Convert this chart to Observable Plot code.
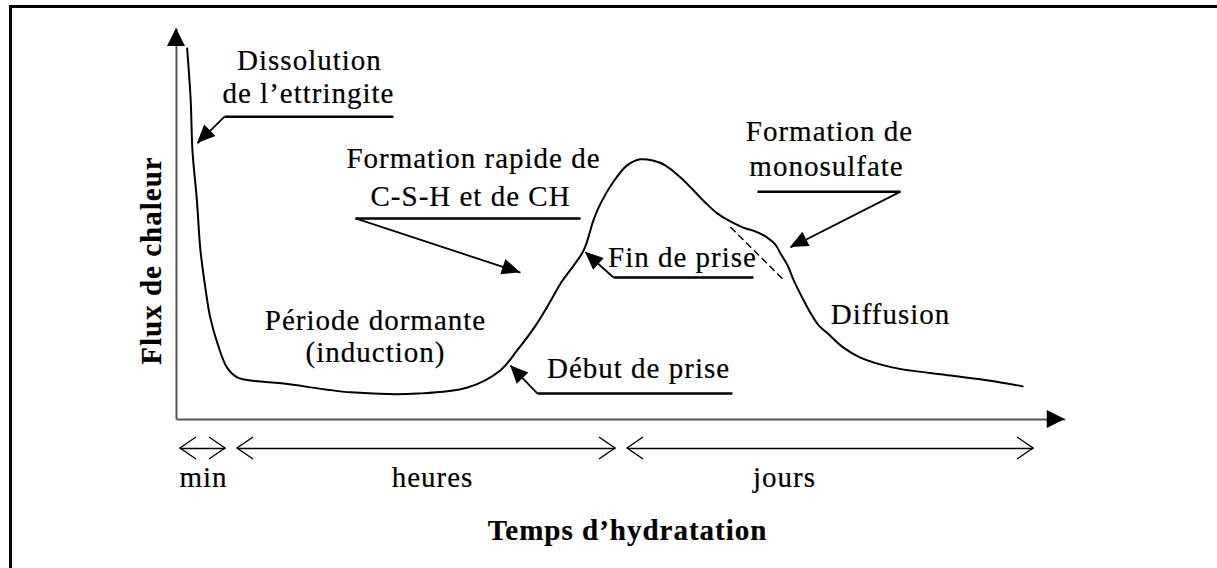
<!DOCTYPE html>
<html><head><meta charset="utf-8">
<script src="https://cdn.jsdelivr.net/npm/d3@7"></script>
<script src="https://cdn.jsdelivr.net/npm/@observablehq/plot@0.6"></script>
<style>
html,body{margin:0;padding:0;background:#fff;}
#wrap{position:relative;width:1217px;height:568px;overflow:hidden;}
#chart svg{display:block;}
#chart svg text{letter-spacing:1px;}
#frame{position:absolute;left:9px;top:5px;right:-10px;bottom:-10px;border-left:3px solid #000;border-top:3px solid #000;pointer-events:none;}
</style></head><body>
<div id="wrap"><div id="chart"></div><div id="frame"></div></div>
<script>
// ---- data (arbitrary units: time 0–100, heat flux 0–100) ----
const curveTime = [1.2,1.6,1.8,2.3,2.7,3.3,3.8,4.7,5.7,6.9,9.5,12.1,19.6,27.2,32.8,36.5,38.4,40.5,42.2,43.3,45.9,47.0,47.8,49.2,50.8,52.3,53.7,55.1,56.8,58.3,59.6,61.0,62.5,63.9,65.3,66.6,67.5,68.1,68.9,69.6,70.6,71.5,72.4,73.4,75.2,77.1,80.8,87.3,92.9,95.4];
const curveFlux = [93.0,80.0,67.4,54.9,42.4,32.3,25.6,18.5,13.0,10.5,9.5,9.0,6.8,6.5,8.0,12.3,17.3,23.6,29.8,34.1,42.4,49.9,54.1,59.4,63.7,65.2,64.9,63.7,60.7,57.4,54.4,51.6,49.6,48.1,47.1,45.6,43.9,41.6,38.6,34.8,30.3,26.6,23.6,21.6,18.0,15.5,13.0,11.0,9.3,8.3];

const shoulderTime = [62.5, 68.3];
const shoulderFlux = [48.1, 35.3];

const noteLabels = ["Dissolution","de l’ettringite","Formation rapide de","C-S-H et de CH","Période dormante","(induction)","Début de prise","Fin de prise","Formation de","monosulfate","Diffusion"];
const noteTime = [14.99,14.88,33.48,33.15,22.44,22.44,52.09,57.05,73.62,73.28,80.50];
const noteFlux = [87.47,79.20,62.91,53.63,22.31,14.29,10.28,38.10,69.92,61.15,24.06];

const underlineStart = [5.41,20.18,40.70,49.27,65.50];
const underlineEnd = [24.46,45.55,62.68,65.05,81.62];
const underlineFlux = [75.9,50.4,6.5,35.6,57.1];

const pointerTailTime = [5.41,20.18,40.70,49.27,81.62];
const pointerTailFlux = [75.9,50.4,6.5,35.6,57.1];
const pointerTipTime = [2.37,38.78,37.66,46.11,69.22];
const pointerTipFlux = [69.2,36.8,13.5,41.9,43.1];

const phaseLabels = ["min","heures","jours"];
const phaseStart = [0.45,6.88,50.85];
const phaseEnd = [5.52,49.49,96.62];
const phaseLabelTime = [3.04,28.86,68.55];

const xAxisEnd = 100.2;
const yAxisEnd = 98.0;
const xTitle = "Temps d’hydratation";
const yTitle = "Flux de chaleur";

// ---- derived tables ----
const curve = curveTime.map((t,i)=>({t, f: curveFlux[i]}));
const shoulder = shoulderTime.map((t,i)=>({t, f: shoulderFlux[i]}));
const notes = noteLabels.map((s,i)=>({s, t: noteTime[i], f: noteFlux[i]}));
const underlines = underlineStart.map((a,i)=>({x1:a, x2:underlineEnd[i], y:underlineFlux[i]}));
const pointers = pointerTailTime.map((a,i)=>({x1:a, y1:pointerTailFlux[i], x2:pointerTipTime[i], y2:pointerTipFlux[i]}));
const phaseRow = -7.27, phaseLabelRow = -17.04, titleRow = -30.3;
const phases = phaseLabels.map((s,i)=>({s, x1: phaseStart[i], x2: phaseEnd[i], t: phaseLabelTime[i]}));
const axes = [{x1:0,y1:0,x2:xAxisEnd,y2:0},{x1:0,y1:0,x2:0,y2:yAxisEnd}];

function fnOf(s){ return typeof s === "function" ? s : (s && s.apply) ? s.apply : s; }

// filled triangular heads at (x2,y2) pointing along (x1,y1)->(x2,y2)
function filledHeads(items, len, half){
  return (index, scales) => {
    const sx = fnOf(scales.x), sy = fnOf(scales.y);
    const g = d3.create("svg:g");
    for (const d of items){
      const X1 = sx(d.x1), Y1 = sy(d.y1), X2 = sx(d.x2), Y2 = sy(d.y2);
      const a = Math.atan2(Y2-Y1, X2-X1), c = Math.cos(a), s = Math.sin(a);
      const bx = X2 - len*c, by = Y2 - len*s;
      g.append("path")
        .attr("d", `M${X2},${Y2}L${bx - half*s},${by + half*c}L${bx + half*s},${by - half*c}Z`)
        .attr("fill", "#000");
    }
    return g.node();
  };
}
// open chevrons at both ends of horizontal spans
function chevrons(items, row, depth, half){
  return (index, scales) => {
    const sx = fnOf(scales.x), sy = fnOf(scales.y);
    const g = d3.create("svg:g").attr("fill","none").attr("stroke","#000").attr("stroke-width",1.4);
    const Y = sy(row);
    for (const d of items){
      const A = sx(d.x1), B = sx(d.x2);
      g.append("path").attr("d", `M${A+depth},${Y-half}L${A},${Y}L${A+depth},${Y+half}`);
      g.append("path").attr("d", `M${B-depth},${Y-half}L${B},${Y}L${B-depth},${Y+half}`);
    }
    return g.node();
  };
}

const serif = "Liberation Serif";
const fs = 29;
const ink = {fill:"#000", stroke:"#000", strokeWidth:0.2};

const chart = Plot.plot({
  width: 1217,
  height: 568,
  marginLeft: 176,
  marginRight: 154,
  marginTop: 20,
  marginBottom: 149,
  x: {domain: [0, 100], axis: null},
  y: {domain: [0, 100], axis: null},
  style: {background: "transparent", fontFamily: serif, overflow: "visible"},
  marks: [
    // axes
    Plot.link(axes, {x1:"x1", y1:"y1", x2:"x2", y2:"y2", stroke:"#555", strokeWidth:2}),
    filledHeads(axes, 18, 9),
    // curve
    Plot.line(curve, {x:"t", y:"f", curve:"catmull-rom", stroke:"#000", strokeWidth:2}),
    Plot.line(shoulder, {x:"t", y:"f", stroke:"#000", strokeWidth:1.5, strokeDasharray:"6,5"}),
    // annotations
    Plot.link(underlines, {x1:"x1", x2:"x2", y1:"y", y2:"y", stroke:"#000", strokeWidth:2.5}),
    Plot.link(pointers, {x1:"x1", y1:"y1", x2:"x2", y2:"y2", stroke:"#000", strokeWidth:1.8}),
    filledHeads(pointers, 18, 8),
    Plot.text(notes, {x:"t", y:"f", text:"s", lineAnchor:"bottom", textAnchor:"middle", fontSize:fs, fontFamily:serif, ...ink}),
    // time phases
    Plot.link(phases, {x1:"x1", x2:"x2", y1:()=>phaseRow, y2:()=>phaseRow, stroke:"#000", strokeWidth:1.4}),
    chevrons(phases, phaseRow, 16, 11),
    Plot.text(phases, {x:"t", y:()=>phaseLabelRow, text:"s", lineAnchor:"bottom", textAnchor:"middle", fontSize:fs, fontFamily:serif, ...ink}),
    // axis titles
    Plot.text([xTitle], {x:()=>50.85, y:()=>titleRow, text:d=>d, lineAnchor:"bottom", textAnchor:"middle", fontSize:fs, fontWeight:"bold", fontFamily:serif, ...ink}),
    Plot.text([yTitle], {x:()=>-2.82, y:()=>39.85, text:d=>d, rotate:-90, lineAnchor:"middle", textAnchor:"middle", fontSize:fs, fontWeight:"bold", fontFamily:serif, ...ink})
  ]
});
document.getElementById("chart").appendChild(chart);
</script>
</body></html>
